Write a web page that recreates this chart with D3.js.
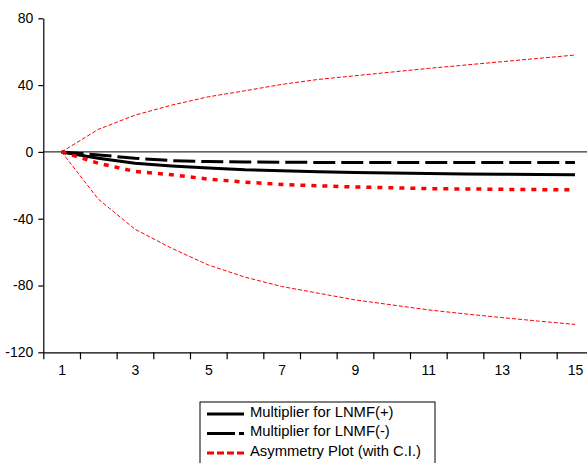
<!DOCTYPE html>
<html>
<head>
<meta charset="utf-8">
<script src="https://cdn.jsdelivr.net/npm/d3@7"></script>
<style>
  body { margin: 0; background: #fff; }
  text { font-family: "Liberation Sans", Arial, sans-serif; }
</style>
</head>
<body>
<script>
// Data
var periods = d3.range(1, 16);
var plusMult  = [0, -3.8, -6.8, -8.4, -9.6, -10.7, -11.3, -11.9, -12.3, -12.7, -13.0, -13.2, -13.4, -13.6, -13.7];
var minusMult = [0, -1.8, -3.8, -5.2, -5.8, -6.0, -6.2, -6.3, -6.3, -6.3, -6.4, -6.4, -6.4, -6.4, -6.4];
var asymmetry = [0, -6.8, -11.7, -13.7, -16.3, -18.1, -19.5, -20.3, -21.0, -21.5, -22.0, -22.2, -22.4, -22.6, -22.7];
var upperCI   = [0, 13.5, 22.0, 28.0, 33.0, 36.6, 40.4, 43.4, 45.6, 47.8, 50.0, 52.0, 54.0, 56.0, 58.0];
var lowerCI   = [0, -28.3, -46.3, -57.7, -67.7, -75.0, -80.6, -84.6, -88.6, -91.6, -94.6, -97.0, -99.2, -101.3, -103.3];
var yTicks = [-120, -80, -40, 0, 40, 80];
var xLabels = [1, 3, 5, 7, 9, 11, 13, 15];
var legendNames = ["Multiplier for LNMF(+)", "Multiplier for LNMF(-)", "Asymmetry Plot (with C.I.)"];

var width = 587, height = 463;
var plotLeft = 43.3, plotTop = 18.3, plotBottom = 352.3, step = 36.67;

var svg = d3.select("body").append("svg")
    .attr("width", width)
    .attr("height", height);

var x = d3.scaleLinear()
    .domain([0.5, 15.5])
    .range([plotLeft, plotLeft + 15 * step]);

var y = d3.scaleLinear()
    .domain([-120, 80])
    .range([plotBottom, plotTop]);

// y axis (plain hyphen for negatives, like the original)
var yAx = svg.append("g")
    .attr("transform", "translate(" + plotLeft + ",0)")
    .call(d3.axisLeft(y).tickValues(yTicks).tickFormat(function(d) { return String(d); })
      .tickSize(5).tickSizeOuter(0).tickPadding(5));
yAx.selectAll("text").attr("font-size", 14).attr("fill", "#000").style("font-family", "Liberation Sans, Arial, sans-serif");

// x axis: ticks at period boundaries, labels at odd periods
var xAx = svg.append("g")
    .attr("transform", "translate(0," + plotBottom + ")")
    .call(d3.axisBottom(x).tickValues(d3.range(0.5, 16, 1)).tickFormat("").tickSize(7).tickSizeOuter(0));
var xLab = svg.append("g")
    .attr("transform", "translate(0," + plotBottom + ")")
    .call(d3.axisBottom(x).tickValues(xLabels).tickSize(0).tickPadding(13));
xLab.select(".domain").remove();
xLab.selectAll("text").attr("font-size", 14).attr("fill", "#000").style("font-family", "Liberation Sans, Arial, sans-serif");

svg.selectAll(".domain, .tick line").attr("stroke", "#000").attr("stroke-width", 1.2);

// zero line
svg.append("line")
    .attr("x1", plotLeft).attr("x2", width)
    .attr("y1", y(0)).attr("y2", y(0))
    .attr("stroke", "#000").attr("stroke-width", 1);

var line = d3.line()
    .x(function(d, i) { return x(periods[i]); })
    .y(function(d) { return y(d); });

var series = [
  {values: upperCI,   color: "red", width: 1,   dash: "4,2"},
  {values: lowerCI,   color: "red", width: 1,   dash: "4,2"},
  {values: minusMult, color: "#000", width: 3,  dash: "22,6"},
  {values: plusMult,  color: "#000", width: 3,  dash: null},
  {values: asymmetry, color: "red", width: 3.5, dash: "5,6"}
];

svg.selectAll(".series")
    .data(series)
    .enter().append("path")
    .attr("class", "series")
    .attr("fill", "none")
    .attr("stroke", function(d) { return d.color; })
    .attr("stroke-width", function(d) { return d.width; })
    .attr("stroke-dasharray", function(d) { return d.dash; })
    .attr("d", function(d) { return line(d.values); });

// legend
var lg = svg.append("g").attr("transform", "translate(200,402)");
lg.append("rect")
    .attr("x", 0).attr("y", 0)
    .attr("width", 235).attr("height", 70)
    .attr("fill", "#fff").attr("stroke", "#000").attr("stroke-width", 1);

var legendStyles = [
  {color: "#000", width: 3, dash: null},
  {color: "#000", width: 3, dash: "28,4,6,20"},
  {color: "red",  width: 3, dash: "7,3"}
];

legendNames.forEach(function(name, i) {
  var ly = 12 + i * 19.5;
  lg.append("line")
      .attr("x1", 7).attr("x2", 44)
      .attr("y1", ly).attr("y2", ly)
      .attr("stroke", legendStyles[i].color)
      .attr("stroke-width", legendStyles[i].width)
      .attr("stroke-dasharray", legendStyles[i].dash);
  lg.append("text")
      .attr("x", 50).attr("y", ly - 1)
      .attr("dominant-baseline", "middle")
      .attr("font-size", 14.8)
      .attr("fill", "#000")
      .text(name);
});
</script>
</body>
</html>
